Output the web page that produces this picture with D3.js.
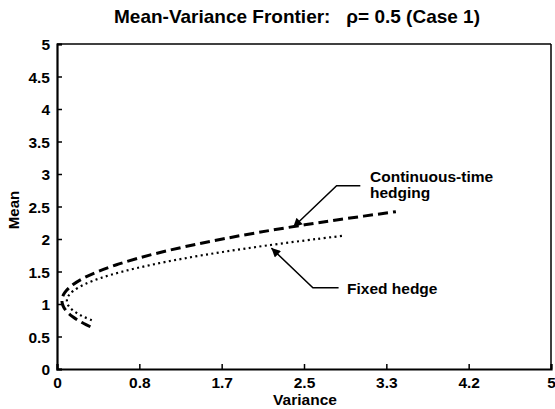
<!DOCTYPE html>
<html>
<head>
<meta charset="utf-8">
<script src="https://cdn.jsdelivr.net/npm/d3@7"></script>
<style>
  body { margin: 0; background: #fff; }
  svg { display: block; }
  text { font-family: "Liberation Sans", Arial, Helvetica, sans-serif; font-weight: bold; fill: #000; white-space: pre; }
</style>
</head>
<body>
<svg id="chart" width="555" height="409"></svg>
<script>
// ---- data ----
const title = "Mean-Variance Frontier:   \u03c1= 0.5 (Case 1)";
const xLabel = "Variance";
const yLabel = "Mean";
const xTickValues = [0, 5/6, 10/6, 2.5, 20/6, 25/6, 5];
const xTickLabels = ["0", "0.8", "1.7", "2.5", "3.3", "4.2", "5"];
const yTickValues = [0, 0.5, 1, 1.5, 2, 2.5, 3, 3.5, 4, 4.5, 5];
const yTickLabels = ["0", "0.5", "1", "1.5", "2", "2.5", "3", "3.5", "4", "4.5", "5"];

// Continuous-time hedging (dashed): mean / variance
const contMean = [0.65, 0.70, 0.75, 0.80, 0.85, 0.90, 0.95, 1.00, 1.05, 1.10, 1.15, 1.20, 1.30, 1.40, 1.50, 1.60, 1.70, 1.80, 1.90, 2.00, 2.10, 2.20, 2.30, 2.42];
const contVar  = [0.338, 0.271, 0.212, 0.163, 0.122, 0.091, 0.068, 0.055, 0.050, 0.055, 0.068, 0.091, 0.163, 0.271, 0.415, 0.595, 0.811, 1.063, 1.351, 1.675, 2.035, 2.431, 2.863, 3.43];

// Fixed hedge (dotted): mean / variance
const fixMean = [0.75, 0.80, 0.85, 0.90, 0.95, 1.00, 1.05, 1.10, 1.15, 1.20, 1.30, 1.40, 1.50, 1.60, 1.70, 1.80, 1.90, 2.00, 2.05];
const fixVar  = [0.352, 0.275, 0.212, 0.163, 0.128, 0.107, 0.100, 0.107, 0.128, 0.163, 0.275, 0.443, 0.667, 0.947, 1.283, 1.675, 2.123, 2.627, 2.90];

// ---- layout ----
const svg = d3.select("#chart");
const m = { left: 57, top: 44, right: 551, bottom: 369 };
const x = d3.scaleLinear().domain([0, 5]).range([m.left, m.right]);
const y = d3.scaleLinear().domain([0, 5]).range([m.bottom, m.top]);

// frame (top/right thinner)
svg.append("line").attr("x1", m.left).attr("x2", m.right).attr("y1", m.top).attr("y2", m.top)
  .attr("stroke", "#000").attr("stroke-width", 1.5);
svg.append("line").attr("x1", m.right).attr("x2", m.right).attr("y1", m.top).attr("y2", m.bottom)
  .attr("stroke", "#000").attr("stroke-width", 1.5);

// axes
const yAxis = d3.axisLeft(y).tickValues(yTickValues).tickSize(-5).tickPadding(10)
  .tickFormat((d, i) => yTickLabels[i]);
const xAxis = d3.axisBottom(x).tickValues(xTickValues).tickSize(-5).tickPadding(10)
  .tickFormat((d, i) => xTickLabels[i]);

const gy = svg.append("g").attr("transform", `translate(${m.left},0)`).call(yAxis);
const gx = svg.append("g").attr("transform", `translate(0,${m.bottom})`).call(xAxis);
[gy, gx].forEach(g => {
  g.select(".domain").attr("stroke", "#000").attr("stroke-width", 2.2);
  g.selectAll(".tick line").attr("stroke", "#000").attr("stroke-width", 1.5);
  g.selectAll(".tick text").style("font-size", "15.5px").style("font-family", "Liberation Sans, Arial, sans-serif").style("font-weight", "bold").attr("fill", "#000");
});
gy.selectAll(".tick text").attr("x", -7).attr("dy", "0.36em");
gx.selectAll(".tick text").attr("y", 8);

// lines
const line = d3.line().x(d => x(d[0])).y(d => y(d[1])).curve(d3.curveCatmullRom);
const contData = contMean.map((mv, i) => [contVar[i], mv]);
const fixData = fixMean.map((mv, i) => [fixVar[i], mv]);

svg.append("path").datum(contData).attr("d", line)
  .attr("fill", "none").attr("stroke", "#000").attr("stroke-width", 3)
  .attr("stroke-dasharray", "10,5");
svg.append("path").datum(fixData).attr("d", line)
  .attr("fill", "none").attr("stroke", "#000").attr("stroke-width", 2.2)
  .attr("stroke-dasharray", "2,3.4");

// arrow marker
svg.append("defs").append("marker").attr("id", "ah")
  .attr("viewBox", "0 0 10 10").attr("refX", 10).attr("refY", 5)
  .attr("markerWidth", 14).attr("markerHeight", 9).attr("markerUnits", "userSpaceOnUse")
  .attr("orient", "auto")
  .append("path").attr("d", "M0,0 L10,5 L0,10 Z").attr("fill", "#000");

// annotation: Continuous-time hedging
svg.append("path").attr("d", `M${x(3.07)},${y(2.82)} L${x(2.83)},${y(2.82)} L${x(2.39)},${y(2.18)}`)
  .attr("fill", "none").attr("stroke", "#000").attr("stroke-width", 1.5).attr("marker-end", "url(#ah)");
svg.append("text").attr("x", 370).attr("y", 182).style("font-size", "15.5px").text("Continuous-time");
svg.append("text").attr("x", 370).attr("y", 198).style("font-size", "15.5px").text("hedging");

// annotation: Fixed hedge
svg.append("path").attr("d", `M${x(2.85)},${y(1.25)} L${x(2.59)},${y(1.25)} L${x(2.17)},${y(1.86)}`)
  .attr("fill", "none").attr("stroke", "#000").attr("stroke-width", 1.5).attr("marker-end", "url(#ah)");
svg.append("text").attr("x", 347).attr("y", 294).style("font-size", "15.5px").text("Fixed hedge");

// title & axis labels
svg.append("text").attr("x", 297).attr("y", 23).attr("text-anchor", "middle").style("font-size", "19px").text(title);
svg.append("text").attr("x", 305).attr("y", 405).attr("text-anchor", "middle").style("font-size", "15.5px").text(xLabel);
svg.append("text").attr("transform", "translate(19,210) rotate(-90)").attr("text-anchor", "middle").style("font-size", "15px").text(yLabel);
</script>
</body>
</html>
